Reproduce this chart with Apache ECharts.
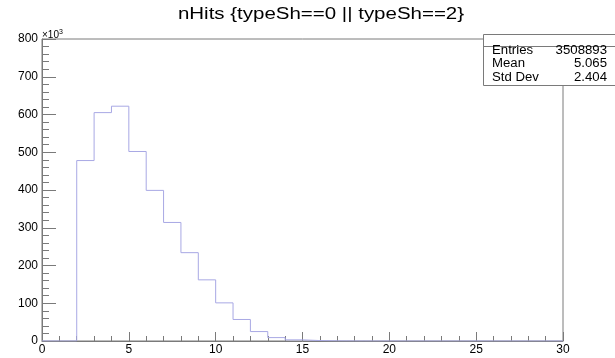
<!DOCTYPE html>
<html>
<head>
<meta charset="utf-8">
<script src="https://cdn.jsdelivr.net/npm/echarts@6/dist/echarts.min.js"></script>
<style>
  html, body { margin: 0; padding: 0; background: #fff; }
  #chart { width: 615px; height: 358px; }
</style>
</head>
<body>
<div id="chart"></div>
<script>
// histogram nHits, 30 bins of width 1 from 0 to 30, counts in units of 10^3
const binEdges = [0,1,2,3,4,5,6,7,8,9,10,11,12,13,14,15,16,17,18,19,20,21,22,23,24,25,26,27,28,29,30];
const counts = [0,0,478,605,622,502,399,314,234,162,101,57,25,9,3,1.2,0.4,0.1,0,0,0,0,0,0,0,0,0,0,0,0];
const statsLabels = ['Entries', 'Mean', 'Std Dev'];
const statsValues = ['3508893', '5.065', '2.404'];
const titleText = 'nHits {typeSh==0 || typeSh==2}';

const font = 'Liberation Sans, Arial, Helvetica, sans-serif';
const frameColor = '#7a7a7a';

// step outline: each bin start edge carries its count, final edge closes the last bin
const histData = counts.map((c, i) => [binEdges[i], c]);
histData.push([binEdges[binEdges.length - 1], counts[counts.length - 1]]);

const chart = echarts.init(document.getElementById('chart'));

// stats box (top right), text is a bit wide like the original canvas
const statsGraphic = [];
statsGraphic.push({
  type: 'rect',
  shape: { x: 483.5, y: 34.5, width: 140, height: 51 },
  style: { fill: '#fff', stroke: frameColor, lineWidth: 1 },
  z: 10
});
statsGraphic.push({
  type: 'line',
  shape: { x1: 483.5, y1: 46.5, x2: 615, y2: 46.5 },
  style: { stroke: frameColor, lineWidth: 1 },
  z: 11
});
statsLabels.forEach((lab, i) => {
  statsGraphic.push({
    type: 'text', x: 492, y: 50.5 + i * 13.4, scaleX: 1.1, z: 12,
    style: { text: lab, fontSize: 12, fontFamily: font, fill: '#000', verticalAlign: 'middle', align: 'left' }
  });
  statsGraphic.push({
    type: 'text', x: 607, y: 50.5 + i * 13.4, scaleX: 1.1, z: 12,
    style: { text: statsValues[i], fontSize: 12, fontFamily: font, fill: '#000', verticalAlign: 'middle', align: 'right' }
  });
});

chart.setOption({
  animation: false,
  backgroundColor: '#fff',
  grid: {
    left: 42, right: 52, top: 39, bottom: 17,
    show: true, borderColor: frameColor, borderWidth: 1, backgroundColor: 'transparent'
  },
  xAxis: {
    type: 'value',
    min: 0, max: 30, interval: 5,
    axisLine: { show: true, lineStyle: { color: frameColor } },
    axisTick: { show: true, inside: true, length: 9, lineStyle: { color: frameColor } },
    minorTick: { show: true, splitNumber: 5, length: 5, lineStyle: { color: frameColor } },
    splitLine: { show: false },
    axisLabel: { fontSize: 12, fontFamily: font, color: '#000', margin: 3 }
  },
  yAxis: {
    type: 'value',
    min: 0, max: 800, interval: 100,
    axisLine: { show: true, lineStyle: { color: frameColor } },
    axisTick: { show: true, inside: true, length: 14, lineStyle: { color: frameColor } },
    minorTick: { show: true, splitNumber: 5, length: 7, lineStyle: { color: frameColor } },
    splitLine: { show: false },
    axisLabel: { fontSize: 12, fontFamily: font, color: '#000', margin: 4 }
  },
  graphic: [
    {
      type: 'text', x: 321, y: 15, scaleX: 1.28,
      style: {
        text: titleText, fontSize: 16, fontFamily: font, fill: '#000',
        align: 'center', verticalAlign: 'middle'
      }
    },
    {
      type: 'text', x: 42, y: 35,
      style: {
        text: '×10{s|3}',
        fontSize: 10, fontFamily: font, fill: '#000', verticalAlign: 'middle',
        rich: { s: { fontSize: 7, verticalAlign: 'top', padding: [0, 0, 6, 0] } }
      }
    }
  ].concat(statsGraphic),
  series: [{
    type: 'line',
    step: 'end',
    symbol: 'none',
    data: histData,
    lineStyle: { color: '#a8a8e4', width: 1 },
    z: 3
  }]
});
</script>
</body>
</html>
